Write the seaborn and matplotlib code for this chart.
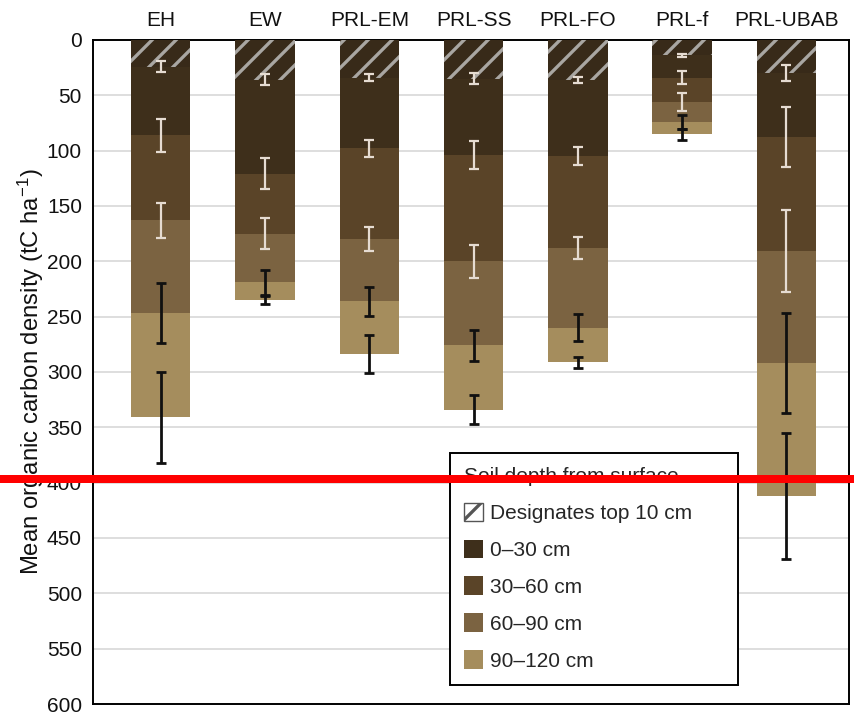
import numpy as np
import matplotlib
matplotlib.use("Agg")
import matplotlib.pyplot as plt
from matplotlib.patches import Patch
from matplotlib.lines import Line2D
from matplotlib.transforms import blended_transform_factory
import seaborn as sns

# Sites
categories = ["EH", "EW", "PRL-EM", "PRL-SS", "PRL-FO", "PRL-f", "PRL-UBAB"]

# Cumulative organic carbon density (tC/ha) down to each depth
top10 = [24, 36, 34, 35, 36, 14, 30]
cum_0_30 = [86, 121, 98, 104, 105, 34, 88]
cum_30_60 = [163, 175, 180, 200, 188, 56, 191]
cum_60_90 = [247, 219, 236, 276, 260, 74, 292]
cum_90_120 = [341, 235, 284, 334, 291, 85, 412]

# Error half-widths for each cumulative depth
err_top10 = [5, 5, 3, 5, 3, 1, 7]
err_0_30 = [15, 14, 8, 13, 8, 6, 27]
err_30_60 = [16, 14, 11, 15, 10, 8, 37]
err_60_90 = [27, 11, 13, 14, 12, 6, 45]
err_90_120 = [41, 4, 17, 13, 5, 5, 57]

layer_labels = ["0\u201330 cm", "30\u201360 cm", "60\u201390 cm", "90\u2013120 cm"]
layer_colors = ["#3e2f1b", "#5a4428", "#7b6341", "#a58d5d"]
hatch_face = "#382a19"
hatch_line = "#a9a6a2"

reference_level = 397

# Figure is laid out at 72 dpi (one point per pixel) so hatch spacing stays fine;
# sizes are given as pixel-equivalent points.
DPI = 72
S = 100 / 72

sns.set_theme(style="white")
plt.rcParams["font.family"] = ["Liberation Sans", "DejaVu Sans"]
plt.rcParams["mathtext.fontset"] = "custom"
plt.rcParams["mathtext.rm"] = "Liberation Sans"
plt.rcParams["mathtext.it"] = "Liberation Sans:italic"
plt.rcParams["hatch.linewidth"] = 3.3

fig = plt.figure(figsize=(854 / DPI, 714 / DPI), dpi=DPI)
ax = fig.add_axes([0.1089, 0.0140, 0.9941 - 0.1089, 0.944 - 0.0140])

bar_w = 0.57
# Deepest cumulative totals first so shallower layers sit on top
stack = [cum_90_120, cum_60_90, cum_30_60, cum_0_30]
colors = layer_colors[::-1]
for vals, col in zip(stack, colors):
    sns.barplot(x=categories, y=vals, color=col, saturation=1, width=bar_w,
                errorbar=None, linewidth=0, ax=ax, zorder=2)

# Hatched top 10 cm
sns.barplot(x=categories, y=top10, color=hatch_face, saturation=1, width=bar_w,
            errorbar=None, hatch="/", edgecolor=hatch_line, linewidth=0,
            ax=ax, zorder=3)

xpos = np.arange(len(categories))
light = "#e6dcd2"
dark = "#101010"
err_sets = [
    (top10, err_top10, light, 1.6),
    (cum_0_30, err_0_30, light, 1.6),
    (cum_30_60, err_30_60, light, 1.6),
    (cum_60_90, err_60_90, dark, 2.0),
    (cum_90_120, err_90_120, dark, 2.0),
]
for vals, errs, col, lw in err_sets:
    ax.errorbar(xpos, vals, yerr=errs, fmt="none", ecolor=col, elinewidth=lw * S,
                capsize=3.6 * S, capthick=lw * S, zorder=5)

ax.set_ylim(600, 0)
ax.set_xlim(-0.65, 6.6)
ax.set_yticks(np.arange(0, 601, 50))
ax.yaxis.grid(True, color="#dedede", linewidth=1.4 * S)
ax.xaxis.grid(False)
ax.set_axisbelow(True)

ax.xaxis.tick_top()
ax.xaxis.set_label_position("top")
ax.tick_params(axis="x", length=0, pad=7 * S, labelsize=15 * S, colors="#111111")
ax.tick_params(axis="y", length=0, pad=8 * S, labelsize=15 * S, colors="#111111")
ax.set_xlabel("")
ax.set_ylabel(r"Mean organic carbon density (tC ha$^{-1}$)", fontsize=17.2 * S,
              color="#111111", labelpad=1.0)

for sp in ax.spines.values():
    sp.set_visible(True)
    sp.set_color("black")
    sp.set_linewidth(1.4 * S)

handles = [Patch(facecolor="white", edgecolor="#555555", hatch="/", linewidth=1.0 * S,
                 label="Designates top 10 cm")]
handles += [Patch(facecolor=c, edgecolor="none", label=l)
            for c, l in zip(layer_colors, layer_labels)]
leg = ax.legend(handles=handles, title="Soil depth from surface",
                loc="lower left", bbox_to_anchor=(0.472, 0.029, 0.381, 0.354),
                mode="expand", fontsize=15 * S, title_fontsize=15 * S,
                alignment="left", frameon=True, fancybox=False, framealpha=1,
                edgecolor="black", handlelength=0.9, handleheight=1.0,
                handletextpad=0.35, labelspacing=0.79, borderpad=0.67,
                borderaxespad=0)
leg.get_frame().set_linewidth(1.4 * S)
leg.set_zorder(10)

# Red reference line across the full figure width
trans = blended_transform_factory(fig.transFigure, ax.transData)
fig.add_artist(Line2D([0, 1], [reference_level, reference_level], transform=trans,
                      color="#ff0000", linewidth=8, zorder=100))

fig.savefig("out.png", dpi=DPI)
